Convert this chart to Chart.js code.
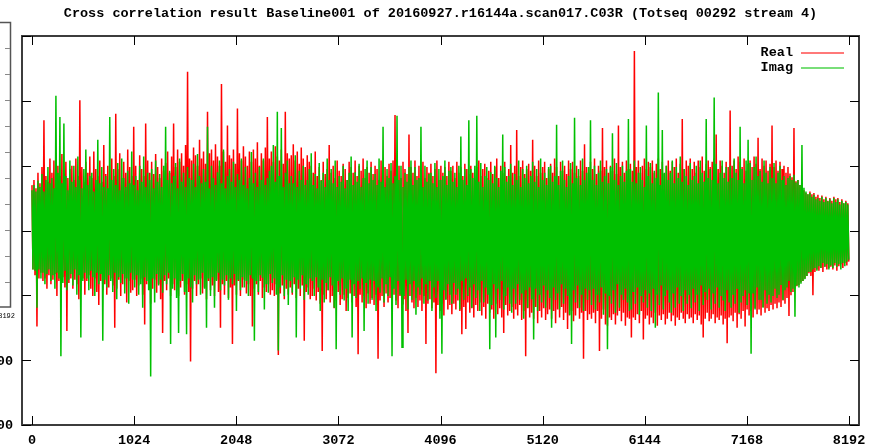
<!DOCTYPE html>
<html><head><meta charset="utf-8">
<script src="https://cdn.jsdelivr.net/npm/chart.js@4.4.1/dist/chart.umd.min.js"></script>
<style>html,body{margin:0;padding:0;background:#fff;overflow:hidden}</style>
</head><body>
<canvas id="c" width="875" height="447"></canvas>
<script>
// ---- data (one plotted point every SAMPLE_STEP lags) ----
const SAMPLE_STEP = 10;
const xTickValues = [0, 1024, 2048, 3072, 4096, 5120, 6144, 7168, 8192];
const yTickValues = [-300, -200, -100, 0, 100, 200, 300];
const seriesNames = ['Real', 'Imag'];
const realValues = [
70,-60,78,-69,65,-148,89,-74,73,-65,98,-78,170,-74,84,-90,75,-69,111,-83,
89,-76,108,-67,78,-101,100,-78,84,-96,118,-72,73,-88,106,-155,81,-81,95,-74,
100,-90,78,-76,111,-83,84,-106,201,-92,98,-74,75,-99,106,-78,89,-69,114,-90,
81,-101,122,-74,95,-95,84,-115,108,-78,75,-92,132,-83,87,-99,100,-88,78,-74,
111,-85,84,-150,180,-90,95,-76,119,-101,81,-83,106,-74,89,-111,125,-78,98,-96,
84,-92,160,-76,100,-101,78,-85,116,-74,95,-99,84,-145,165,-83,108,-78,89,-113,
106,-90,87,-76,118,-96,98,-83,81,-106,111,-158,92,-78,104,-92,122,-74,89,-101,
114,-83,165,-92,98,-76,125,-101,106,-88,119,-78,100,-99,132,-83,245,-95,111,-202,
108,-90,128,-78,116,-101,100,-83,140,-74,111,-97,122,-88,103,-106,183,-78,119,-92,
125,-85,108,-101,133,-76,114,-95,100,-150,226,-83,122,-99,106,-78,162,-104,116,-88,
111,-175,125,-85,103,-99,188,-78,119,-101,108,-88,130,-76,114,-97,100,-83,122,-101,
106,-148,125,-90,111,-83,136,-99,100,-78,119,-104,108,-88,128,-95,175,-83,111,-99,
122,-92,106,-101,130,-83,114,-192,108,-97,125,-85,103,-106,183,-90,119,-99,111,-88,
116,-99,133,-83,108,-104,122,-90,103,-101,128,-85,111,-170,98,-95,116,-88,106,-106,
100,-101,89,-90,122,-108,84,-95,98,-113,78,-186,106,-99,87,-106,95,-92,132,-111,
89,-101,100,-120,81,-108,108,-95,92,-115,84,-106,103,-99,95,-124,78,-104,106,-97,
98,-111,89,-101,108,-118,84,-191,100,-99,92,-111,111,-101,81,-120,98,-97,89,-113,
106,-104,87,-115,100,-99,95,-198,78,-108,108,-101,89,-118,98,-97,84,-111,103,-104,
92,-115,108,-99,178,-108,89,-120,100,-101,81,-113,106,-106,95,-124,87,-158,148,-101,
98,-111,89,-120,108,-104,84,-118,100,-108,92,-124,106,-101,81,-175,98,-113,89,-106,
103,-120,84,-111,95,-220,108,-115,78,-124,100,-113,89,-131,98,-106,84,-122,106,-115,
92,-129,100,-113,81,-122,106,-108,89,-124,98,-160,84,-118,103,-152,95,-111,87,-127,
100,-120,89,-134,78,-115,98,-124,108,-111,84,-131,95,-118,103,-136,81,-113,92,-127,
106,-122,87,-136,98,-113,111,-129,81,-120,100,-134,89,-158,106,-115,84,-131,95,-124,
132,-118,89,-136,100,-122,155,-131,84,-115,98,-138,108,-124,87,-194,95,-120,103,-134,
92,-127,140,-136,100,-118,84,-143,108,-124,89,-134,98,-120,106,-138,81,-129,95,-122,
103,-136,89,-124,111,-143,98,-122,84,-134,106,-118,92,-138,100,-127,87,-152,108,-131,
95,-124,106,-140,89,-131,100,-120,84,-136,108,-127,92,-198,133,-124,98,-138,89,-129,
106,-136,95,-127,111,-143,87,-124,100,-186,92,-136,158,-122,98,-145,108,-147,89,-134,
100,-138,92,-129,111,-145,87,-131,162,-124,98,-140,106,-127,89,-147,108,-134,95,-136,
103,-165,92,-134,277,-138,98,-129,108,-143,89,-124,100,-168,111,-136,95,-131,106,-145,
98,-134,108,-143,89,-127,103,-147,111,-131,95,-138,106,-129,87,-145,100,-136,108,-127,
92,-140,106,-131,98,-147,111,-134,89,-138,103,-127,172,-136,95,-143,108,-129,100,-136,
111,-134,95,-143,106,-129,89,-138,108,-131,98,-145,114,-165,92,-136,103,-127,108,-140,
98,-136,106,-129,111,-143,148,-134,95,-138,108,-131,100,-145,89,-136,106,-174,98,-134,
185,-131,100,-140,108,-127,95,-150,114,-129,106,-136,98,-124,111,-148,92,-122,103,-131,
108,-124,98,-134,114,-120,103,-129,143,-122,95,-131,111,-118,100,-127,108,-120,92,-124,
103,-115,162,-122,98,-113,108,-120,92,-111,106,-118,95,-108,100,-113,89,-104,98,-132,
88,-100,82,-95,158,-90,76,-86,78,-84,70,-80,66,-78,62,-74,58,-70,56,-66,
60,-70,56,-100,58,-64,52,-60,55,-62,50,-58,54,-64,48,-56,52,-60,46,-58,
50,-56,46,-60,52,-54,48,-62,50,-55,44,-52,48,-58,42,-50,46,-54,42,-48
];
const imagValues = [
62,-60,70,-62,60,-119,77,-60,67,-74,87,-65,60,-83,78,-67,98,-60,73,-78,
81,-69,65,-90,208,-65,89,-74,175,-194,73,-81,165,-62,84,-92,62,-76,108,-67,
75,-85,100,-60,67,-99,114,-69,78,-165,65,-78,95,-65,125,-74,70,-92,84,-62,
89,-72,60,-101,78,-65,140,-83,73,-67,98,-170,67,-76,84,-88,65,-69,175,-78,
78,-95,95,-65,70,-106,104,-72,62,-81,111,-67,81,-97,67,-74,92,-113,73,-65,
122,-76,70,-88,84,-69,62,-99,100,-83,75,-119,114,-72,67,-78,89,-92,78,-225,
95,-74,65,-111,108,-67,75,-85,87,-76,67,-96,100,-69,160,-83,78,-65,92,-175,
73,-90,84,-74,104,-104,65,-158,111,-78,75,-67,89,-95,67,-160,98,-74,81,-88,
78,-111,103,-69,67,-83,118,-76,84,-99,73,-65,95,-90,75,-150,160,-74,65,-101,
100,-72,81,-119,70,-78,90,-65,108,-92,73,-76,125,-85,65,-69,84,-107,95,-74,
75,-83,106,-67,67,-124,87,-76,78,-92,111,-72,70,-88,98,-78,65,-101,81,-69,
121,-74,73,-170,89,-78,67,-95,98,-69,78,-73,111,-122,70,-83,81,-96,92,-67,
100,-81,132,-74,75,-99,183,-185,84,-88,158,-69,67,-101,89,-76,108,-115,73,-78,
84,-96,73,-72,116,-165,67,-76,92,-90,78,-69,100,-107,70,-83,78,-99,95,-74,
119,-78,70,-101,87,-72,65,-88,104,-124,77,-76,89,-111,67,-81,111,-92,78,-72,
95,-85,73,-119,108,-183,67,-78,84,-99,75,-74,100,-108,65,-90,78,-124,89,-76,
114,-165,70,-83,90,-104,75,-78,103,-90,67,-74,81,-155,95,-81,108,-113,73,-76,
98,-107,78,-78,87,-124,70,-88,111,-96,75,-74,160,-111,67,-83,95,-101,81,-72,
104,-194,73,-90,84,-115,177,-78,78,-99,100,-180,67,-101,89,-76,75,-122,98,-83,
108,-107,70,-78,98,-130,78,-88,81,-99,160,-74,67,-113,100,-83,75,-108,87,-78,
89,-124,73,-88,104,-104,67,-78,95,-136,78,-190,84,-92,108,-107,70,-83,92,-99,
98,-113,75,-81,89,-99,67,-90,100,-122,145,-78,78,-107,95,-74,70,-101,170,-88,
95,-119,81,-83,100,-104,177,-92,75,-124,104,-78,67,-111,84,-88,98,-99,78,-183,
90,-115,73,-83,100,-165,81,-90,67,-107,92,-78,148,-122,98,-101,75,-88,84,-113,
103,-127,70,-90,87,-113,78,-83,108,-107,67,-97,95,-136,81,-92,100,-119,73,-88,
84,-106,106,-168,75,-90,95,-124,67,-99,111,-111,78,-85,89,-119,70,-92,98,-104,
100,-150,75,-88,84,-107,163,-97,70,-122,92,-83,108,-113,78,-90,67,-101,84,-130,
104,-175,73,-92,174,-111,81,-85,95,-119,70,-99,111,-124,78,-90,89,-107,98,-92,
170,-115,78,-90,100,-122,70,-99,89,-111,108,-88,75,-130,84,-97,95,-183,73,-101,
98,-113,150,-92,78,-127,104,-83,70,-119,84,-99,100,-107,75,-90,92,-111,172,-124,
95,-122,75,-95,108,-113,73,-88,89,-130,98,-101,78,-111,67,-92,162,-119,84,-97,
104,-124,73,-90,92,-150,81,-99,213,-115,70,-85,155,-122,89,-101,100,-92,78,-111,
89,-127,108,-97,73,-119,98,-88,81,-113,114,-101,75,-124,95,-92,84,-113,70,-99,
104,-120,78,-90,84,-111,100,-99,73,-124,108,-85,89,-115,75,-95,172,-107,81,-90,
95,-122,78,-97,205,-113,103,-88,73,-119,89,-101,108,-108,81,-124,98,-92,75,-111,
100,-119,81,-99,111,-113,89,-90,78,-127,160,-111,95,-101,73,-92,108,-115,140,-97,
104,-190,78,-97,98,-122,114,-88,84,-107,92,-107,75,-119,108,-92,89,-113,73,-99,
98,-111,81,-101,104,-90,73,-104,89,-99,100,-84,78,-107,84,-92,70,-88,81,-78,
84,-95,78,-90,86,-133,74,-85,78,-88,70,-82,132,-78,66,-75,60,-70,56,-64,
58,-64,52,-60,55,-58,48,-62,50,-55,46,-58,52,-50,44,-56,50,-52,45,-60,
48,-54,42,-58,50,-50,44,-56,48,-52,40,-60,46,-50,42,-55,44,-48,40,-45
];
const titleText = 'Cross correlation result Baseline001 of 20160927.r16144a.scan017.C03R (Totseq 00292 stream 4)';

// ---- styles ----
const FONT = 'Liberation Mono';
const RED = '#ff0000';
const GREEN = '#00c000';

const toPoints = arr => arr.map((v, i) => ({x: i * SAMPLE_STEP, y: v}));

const gnuFrame = {
  id: 'gnuFrame',
  beforeDraw(chart) {
    const ctx = chart.ctx;
    ctx.save();
    ctx.fillStyle = '#fff';
    ctx.fillRect(0, 0, chart.width, chart.height);
    // fragment of a neighbouring plot at the far left edge
    ctx.strokeStyle = '#555'; ctx.lineWidth = 1.5;
    ctx.beginPath();
    ctx.moveTo(0, 22.5); ctx.lineTo(10.5, 22.5); ctx.lineTo(10.5, 307);
    ctx.lineTo(0, 307);
    ctx.stroke();
    ctx.strokeStyle = '#888'; ctx.lineWidth = 1;
    ctx.beginPath();
    for (let k = 0; k < 10; k++) { const yy = 48.5 + k * 26; if (yy > 300) break; ctx.moveTo(5, yy); ctx.lineTo(10, yy); }
    ctx.stroke();
    ctx.fillStyle = '#000';
    ctx.font = '7px ' + FONT;
    ctx.textAlign = 'right'; ctx.textBaseline = 'middle';
    ctx.fillText('8192', 15, 316);
    ctx.restore();
  },
  afterDatasetsDraw(chart) {
    const {ctx, chartArea: a, scales: {x, y}} = chart;
    ctx.save();
    ctx.strokeStyle = '#3c3c3c'; ctx.lineWidth = 2;
    ctx.strokeRect(a.left, a.top, a.right - a.left, a.bottom - a.top);
    ctx.strokeStyle = '#000'; ctx.lineWidth = 1;
    ctx.beginPath();
    xTickValues.forEach(t => {
      const px = Math.round(x.getPixelForValue(t)) + 0.5;
      ctx.moveTo(px, a.bottom); ctx.lineTo(px, a.bottom - 9);
      ctx.moveTo(px, a.top); ctx.lineTo(px, a.top + 9);
    });
    yTickValues.forEach(t => {
      const py = Math.round(y.getPixelForValue(t)) + 0.5;
      ctx.moveTo(a.left, py); ctx.lineTo(a.left + 9, py);
      ctx.moveTo(a.right, py); ctx.lineTo(a.right - 9, py);
    });
    ctx.stroke();
    // y tick labels (only the part not hidden by the neighbouring plot)
    ctx.fillStyle = '#000';
    ctx.font = 'bold 13.5px ' + FONT;
    ctx.textAlign = 'right'; ctx.textBaseline = 'middle';
    yTickValues.forEach(t => {
      const py = y.getPixelForValue(t);
      if (py > 320) ctx.fillText(String(t), 13, py + 1);
    });
    // legend, gnuplot style
    const colors = [RED, GREEN];
    seriesNames.forEach((name, k) => {
      const ly = a.top + 17 + k * 15;
      ctx.fillStyle = '#000';
      ctx.textAlign = 'right';
      ctx.fillText(name, a.right - 66, ly);
      ctx.strokeStyle = colors[k]; ctx.globalAlpha = 0.7; ctx.lineWidth = 1.5;
      ctx.beginPath(); ctx.moveTo(a.right - 58, ly); ctx.lineTo(a.right - 15, ly); ctx.stroke();
      ctx.globalAlpha = 1;
    });
    ctx.restore();
  }
};

new Chart(document.getElementById('c'), {
  type: 'line',
  data: {
    datasets: [
      {label: seriesNames[0], data: toPoints(realValues), borderColor: RED, borderWidth: 1.5, pointRadius: 0, order: 2},
      {label: seriesNames[1], data: toPoints(imagValues), borderColor: GREEN, borderWidth: 1.5, pointRadius: 0, order: 1}
    ]
  },
  options: {
    responsive: false,
    animation: false,
    events: [],
    layout: {padding: {left: 22, right: 16, top: 0, bottom: 0}},
    plugins: {
      legend: {display: false},
      tooltip: {enabled: false},
      title: {
        display: true, text: titleText, color: '#000',
        font: {family: FONT, size: 13.5, weight: 'bold'},
        padding: {top: 5, bottom: 14.8}
      }
    },
    scales: {
      x: {
        type: 'linear', min: -100, max: 8292,
        afterBuildTicks: s => { s.ticks = xTickValues.map(v => ({value: v})); },
        afterFit: s => { s.height = 22; },
        grid: {display: false, drawTicks: false},
        border: {display: false},
        ticks: {color: '#000', padding: 7, maxRotation: 0, autoSkip: false,
          callback: v => String(v),
          font: {family: FONT, size: 13.5, weight: 'bold'}}
      },
      y: {
        type: 'linear', min: -300, max: 300, display: false,
        afterBuildTicks: s => { s.ticks = yTickValues.map(v => ({value: v})); }
      }
    }
  },
  plugins: [gnuFrame]
});
</script>
</body></html>
